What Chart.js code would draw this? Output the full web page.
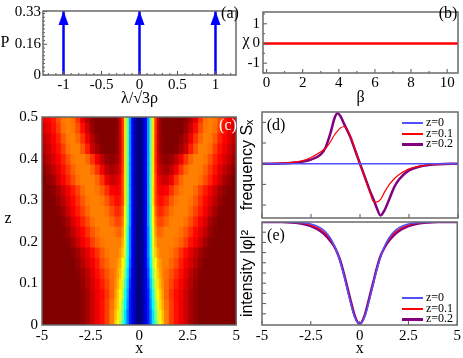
<!DOCTYPE html>
<html>
<head>
<meta charset="utf-8">
<script src="https://cdn.jsdelivr.net/npm/chart.js@4.4.0/dist/chart.umd.min.js"></script>
<style>
  body { margin: 0; background: #fff; }
  #fig { position: relative; width: 463px; height: 358px; overflow: hidden; }
  #fig canvas { position: absolute; }
  .lbl { position: absolute; font-family: 'Liberation Serif', serif; font-size: 16px; line-height: 1;
         transform: translate(-50%, -50%); white-space: nowrap; color: #000; }
  .leg { position: absolute; left: 402px; font-family: 'Liberation Serif', serif; font-size: 12px;
         line-height: 1; white-space: nowrap; transform: translateY(-50%); }
  .leg i { display: inline-block; width: 21px; vertical-align: middle; margin-right: 3px; }
</style>
</head>
<body>
<div id="fig">
  <div class="lbl" style="left:5px;top:42px">P</div>
  <div class="lbl" style="left:246px;top:40px">χ</div>
  <div class="lbl" style="left:8px;top:218px">z</div>
  <div class="lbl" style="left:230px;top:13px">(a)</div>
  <div class="lbl" style="left:448px;top:13px">(b)</div>
  <div class="lbl" style="left:228px;top:125px;color:#fff">(c)</div>
  <div class="lbl" style="left:276px;top:125px">(d)</div>
  <div class="lbl" style="left:276px;top:235px">(e)</div>
  <div class="leg" style="top:122px"><i style="height:2px;background:#5050ff"></i>z=0</div>
  <div class="leg" style="top:132.5px"><i style="height:1.5px;background:#ff0000"></i>z=0.1</div>
  <div class="leg" style="top:143px"><i style="height:3px;background:#800080"></i>z=0.2</div>
  <div class="leg" style="top:297px"><i style="height:2px;background:#5050ff"></i>z=0</div>
  <div class="leg" style="top:307.7px"><i style="height:1.5px;background:#ff0000"></i>z=0.1</div>
  <div class="leg" style="top:318.3px"><i style="height:3px;background:#800080"></i>z=0.2</div>
</div>
<script>
// (a) eigenvalue distribution
const lambdaVals = [-1, 0, 1];
const probVals = [0.333, 0.333, 0.333];
const lambdaTicks = [-1, -0.5, 0, 0.5, 1];
const probTicks = [0, 0.16, 0.33];

// (b) chirp vs beta
const betaVals = [-0.2, 0, 2, 4, 6, 8, 10, 10.6];
const chiVals = [0, 0, 0, 0, 0, 0, 0, 0];
const betaTicks = [0, 2, 4, 6, 8, 10];
const chiTicks = [-1, 0, 1];

// (c) intensity map, levels 0..20 on a jet scale, x >= 0 half (mirrored)
const xTicks = [-5, -2.5, 0, 2.5, 5];
const zTicks = [0, 0.1, 0.2, 0.3, 0.4, 0.5];
const heatZ = [0, 0.025, 0.05, 0.075, 0.1, 0.125, 0.15, 0.175, 0.2, 0.225, 0.25,
               0.275, 0.3, 0.325, 0.35, 0.375, 0.4, 0.425, 0.45, 0.475, 0.5];
const heatXEdges = [0, 0.125, 0.25, 0.375, 0.5, 0.625, 0.75, 0.875, 1, 1.125, 1.25, 1.5, 1.75,
                    2, 2.25, 2.5, 2.75, 3, 3.25, 3.5, 3.75, 4, 4.25, 4.5, 4.75, 5];
const heatLevels = [
  [0,1,2,3,5,7,9,11, 12.5,13.5,15,16.3,17.2,17.8,18.5,19.2,19.7, 20,20,20,20,20,20,20,20],
  [0,1,2,3,5,7,9.5,11.5, 12.8,13.8,15,16.3,17.2,17.8,18.5,19.2,19.7, 20,20,20,20,20,20,20,20],
  [0,1,2,3,5.5,7.5,10,12, 13.3,14.2,15.2,16.3,17.2,17.8,18.5,19.2,19.7, 20,20,20,20,20,20,20,20],
  [0,1,2,3,6,8,11,12.5, 13.5,14.5,15.5,16.5,17.3,17.8,18.5,19.2,19.7, 20,20,20,20,20,20,20,20],
  [0,1,2,3.5,6.5,9,11.5,13, 14,14.8,15.4,16.2,17,17.6,18.3,19,19.6, 20,20,20,20,20,20,20,20],
  [0,1,2,4,7,10,12,13.5, 14.3,15,15.3,15.9,16.6,17.3,18,18.8,19.4, 19.8,20,20,20,20,20,20,20],
  [0,1,2.5,4.5,7.5,11,12.5,14, 14.5,15,15,15.5,16,17,17.7,18.3,19, 19.6,20,20,20,20,20,20,20],
  [0,1,2.5,5,8,11.5,13.5,14.5, 15,15,15,15.2,15.7,16.5,17.3,18,18.7, 19.3,19.8,20,20,20,20,20,20],
  [0,1,2.5,5,8,12,14,15, 15,15,15,15,15.2,15.6,16.3,17.2,17.8, 18.5,19.3,19.8,20,20,20,20,20],
  [0,1,2.5,5,8.5,12,14.5,15.5, 15.5,15.3,15,15,15,15.3,15.8,16.6,17.4, 18,18.8,19.5,19.9,20,20,20,20],
  [0,1,2.5,5.5,9,12.5,15,16, 16.2,16,15.5,15,15,15,15.3,16,16.8, 17.6,18.3,19.2,19.7,20,20,20,20],
  [0,1,2.5,5.5,9,12.5,15.5,16.5, 16.8,16.6,16,15.3,15,15,15,15.5,16.2, 17,17.7,18.5,19.3,19.8,20,20,20],
  [0,1,2.5,5.5,9.5,13,16,17, 17.3,17.2,16.7,15.8,15.2,15,15,15.2,15.8, 16.6,17.4,18.1,18.9,19.5,19.9,20,20],
  [0,1,2.5,5.5,9.5,13,16,17.3, 17.7,17.8,17.5,16.6,15.7,15.2,15,15,15.4, 16.2,17,17.7,18.5,19.2,19.7,20,20],
  [0,1,2.5,5.5,9.5,13,16,17.5, 18,18.5,18.5,17.8,16.5,15.5,15,15,15, 15.3,16,16.8,17.6,18.4,19.2,19.7,20],
  [0,1,2.5,5.5,9.5,13,16.3,18, 18.7,19,19.2,18.8,17.7,16.5,15.5,15,15, 15.1,15.6,16.4,17.2,18,18.7,19.3,19.7],
  [0,1,2.5,5.5,9.5,13,16.5,18.3, 19.2,19.5,19.7,19.5,18.8,17.8,16.5,15.5,15, 15,15.2,15.9,16.8,17.5,18.2,18.8,19.3],
  [0,1,2.5,5.5,9.5,13,16.5,18.5, 19.5,19.8,20,20,19.8,19.3,18.5,17,15.8, 15,15,15.3,16.3,17.2,17.8,18.5,19],
  [0,1,2.5,5.5,9.5,13,16.5,18.5, 19.5,19.8,20,20,20,19.7,19,17.8,16.5, 15.5,15,15.1,15.8,16.8,17.5,18.2,18.7],
  [0,1,2.5,5.5,9.5,13,16.5,18.5, 19.5,20,20,20,20,20,19.5,18.5,17.3, 16,15.2,15,15.3,16.3,17.2,17.8,18.2],
  [0,1,2.5,5.5,9.5,13,16.5,18.5, 19.5,20,20,20,20,20,19.7,19,18, 16.5,15.3,15,15.2,16,17,17.5,17.8]
];

// (d), (e) profiles
const profileX = [-5, -4, -3.5, -3, -2.5, -2, -1.75, -1.5, -1.3, -1.15, -1, -0.8, -0.5, -0.25, 0,
                  0.25, 0.5, 0.7, 0.85, 1.05, 1.25, 1.5, 1.75, 2, 2.5, 3, 3.5, 4, 5];
const freqZ0 = [0,0,0,0,0,0,0,0,0,0,0,0,0,0,0,0,0,0,0,0,0,0,0,0,0,0,0,0,0];
const freqZ01 = [0, 0.01, 0.025, 0.05, 0.12, 0.23, 0.3, 0.43, 0.56, 0.63, 0.69, 0.72, 0.54, 0.28, 0,
                 -0.28, -0.55, -0.74, -0.74, -0.69, -0.55, -0.4, -0.29, -0.21, -0.1, -0.05, -0.02, -0.01, 0];
const freqZ02 = [0, 0.005, 0.015, 0.035, 0.08, 0.18, 0.32, 0.6, 0.88, 0.975, 0.92, 0.76, 0.52, 0.26, 0,
                 -0.26, -0.52, -0.7, -0.85, -1.0, -0.9, -0.68, -0.45, -0.3, -0.13, -0.06, -0.025, -0.01, 0];
const intZ0 = [1, 0.9995, 0.998, 0.993, 0.98, 0.943, 0.904, 0.843, 0.771, 0.7, 0.613, 0.472, 0.233, 0.066, 0,
               0.066, 0.233, 0.393, 0.51, 0.643, 0.75, 0.843, 0.904, 0.943, 0.98, 0.993, 0.998, 0.9995, 1];
const intZ01 = [1, 0.999, 0.997, 0.99, 0.97, 0.927, 0.887, 0.83, 0.765, 0.7, 0.619, 0.48, 0.245, 0.073, 0,
                0.073, 0.245, 0.4, 0.517, 0.649, 0.745, 0.83, 0.887, 0.927, 0.97, 0.99, 0.997, 0.999, 1];
const intZ02 = [1, 0.999, 0.995, 0.985, 0.96, 0.91, 0.87, 0.815, 0.76, 0.7, 0.625, 0.49, 0.26, 0.08, 0,
                0.08, 0.26, 0.41, 0.525, 0.655, 0.74, 0.815, 0.87, 0.91, 0.96, 0.985, 0.995, 0.999, 1];

const BLUE = '#5050ff', RED = '#ff0000', PURPLE = '#800080';
const SERIF = 'Liberation Serif, Times New Roman, serif';
Chart.defaults.font.family = SERIF;
const tickFont = { family: SERIF, size: 15 };
const serifTitle = { family: SERIF, size: 16 };
const sansTitle = { family: 'Liberation Sans, Arial, sans-serif', size: 16 };

function jet(v) {
    const c = t => Math.round(255 * Math.max(0, Math.min(1, 1.5 - Math.abs(4 * v - t))));
    return `rgb(${c(3)},${c(2)},${c(1)})`;
}

// frame round the plot area and short inward tick marks
const frameTicks = {
    id: 'frameTicks',
    afterDraw(chart, args, opts) {
        const { ctx, chartArea: a, scales: { x, y } } = chart;
        ctx.save();
        ctx.strokeStyle = '#555';
        ctx.lineWidth = 1;
        ctx.beginPath();
        const xm = (vals, len) => (vals || []).forEach(v => {
            const px = x.getPixelForValue(v);
            ctx.moveTo(px, a.bottom); ctx.lineTo(px, a.bottom - len);
        });
        const ym = (vals, len) => (vals || []).forEach(v => {
            const py = y.getPixelForValue(v);
            ctx.moveTo(a.left, py); ctx.lineTo(a.left + len, py);
        });
        xm(opts.xMajor, 4); xm(opts.xMinor, 2);
        ym(opts.yMajor, 4); ym(opts.yMinor, 2);
        ctx.stroke();
        ctx.lineWidth = 1.5;
        ctx.strokeStyle = '#6a6a6a';
        ctx.strokeRect(a.left, a.top, a.width, a.height);
        ctx.restore();
    }
};

function makeCanvas(left, top, w, h) {
    const c = document.createElement('canvas');
    c.width = w; c.height = h;
    c.style.left = left + 'px'; c.style.top = top + 'px';
    c.style.width = w + 'px'; c.style.height = h + 'px';
    const fig = document.getElementById('fig');
    fig.insertBefore(c, fig.firstChild);
    return c;
}

function axis(min, max, ticks, size, title, titleFont, titlePad, labelPad) {
    return {
        type: 'linear', min, max, offset: false,
        grid: { display: false, drawTicks: false, offset: false },
        border: { display: false },
        ticks: { display: ticks.length > 0, padding: labelPad || 1, color: '#000', font: tickFont,
                 autoSkip: false, maxRotation: 0, callback: v => String(v) },
        title: title ? { display: true, text: title, color: '#000', font: titleFont, padding: titlePad || 0 }
                     : { display: false },
        afterBuildTicks: s => { s.ticks = ticks.map(v => ({ value: v })); },
        afterFit: s => { if (s.isHorizontal()) s.height = size; else s.width = size; }
    };
}

function options(pad, scales, frame, extra) {
    return Object.assign({
        responsive: false, animation: false, events: [],
        layout: { padding: pad },
        plugins: { legend: { display: false }, tooltip: { enabled: false }, frameTicks: frame },
        scales
    }, extra || {});
}

function lineSet(xs, ys, color, width) {
    return {
        data: xs.map((x, i) => ({ x, y: ys[i] })),
        showLine: true, borderColor: color, borderWidth: width,
        pointRadius: 0, cubicInterpolationMode: 'monotone', fill: false
    };
}

// arrow head: apex at the centre of the image, so it sits on the data value
const arrowHead = document.createElement('canvas');
arrowHead.width = 11; arrowHead.height = 30;
(() => {
    const g = arrowHead.getContext('2d');
    g.fillStyle = '#0000ff';
    g.beginPath(); g.moveTo(5.5, 15); g.lineTo(10.5, 29); g.lineTo(0.5, 29); g.closePath(); g.fill();
})();

// (a)
new Chart(makeCanvas(0, 0, 242, 108), {
    type: 'scatter',
    data: {
        datasets: [
            ...lambdaVals.map((l, i) => ({
                data: [{ x: l, y: 0 }, { x: l, y: probVals[i] }],
                showLine: true, borderColor: '#0000ff', borderWidth: 2.5, pointRadius: 0
            })),
            { data: lambdaVals.map((l, i) => ({ x: l, y: probVals[i] })),
              pointStyle: arrowHead, pointRadius: 5, showLine: false }
        ]
    },
    options: options({ left: 0, top: 4, right: 4, bottom: 0 }, {
        x: axis(-1.27, 1.27, lambdaTicks, 33, 'λ/√3ρ', serifTitle),
        y: axis(0, 0.333, probTicks, 43, null, null, 0, 2)
    }, { xMajor: lambdaTicks, xMinor: [-1.2, -1.1, -0.9, -0.8, -0.7, -0.6, -0.4, -0.3, -0.2, -0.1, 0.1, 0.2, 0.3, 0.4, 0.6, 0.7, 0.8, 0.9, 1.1, 1.2],
         yMajor: probTicks, yMinor: [0.02, 0.04, 0.06, 0.08, 0.1, 0.12, 0.14, 0.18, 0.2, 0.22, 0.24, 0.26, 0.28, 0.3, 0.32] }),
    plugins: [frameTicks]
});

// (b)
new Chart(makeCanvas(232, 0, 231, 107), {
    type: 'scatter',
    data: { datasets: [lineSet(betaVals, chiVals, RED, 2.5)] },
    options: options({ left: 0, top: 4, right: 5, bottom: 0 }, {
        x: axis(-0.2, 10.6, betaTicks, 34, 'β', serifTitle),
        y: axis(-1.5, 1.6, chiTicks, 31, null, null, 0, 3)
    }, { xMajor: betaTicks, xMinor: [1, 3, 5, 7, 9], yMajor: chiTicks, yMinor: [-1.5, -0.5, 0.5, 1.5] }),
    plugins: [frameTicks]
});

// (c) heat map as floating horizontal bars, one per cell
const heatSets = [];
for (let c = 0; c < heatXEdges.length - 1; c++) {
    const colors = heatLevels.map(row => jet(row[c] / 20));
    [[heatXEdges[c], heatXEdges[c + 1]], [-heatXEdges[c + 1], -heatXEdges[c]]].forEach(span => {
        heatSets.push({
            data: heatZ.map(z => ({ y: z, x: span })),
            backgroundColor: colors, borderWidth: 0, grouped: false,
            barPercentage: 1, categoryPercentage: 1, inflateAmount: 0.6, clip: 0
        });
    });
}
new Chart(makeCanvas(0, 104, 242, 254), {
    type: 'bar',
    data: { datasets: heatSets },
    options: options({ left: 0, top: 8, right: 3, bottom: 0 }, {
        x: axis(-5, 5, xTicks, 33, 'x', serifTitle, 0, 2),
        y: axis(0, 0.5, zTicks, 42, null, null, 0, 4)
    }, {}, { indexAxis: 'y' }),
    plugins: [frameTicks]
});

// (d)
new Chart(makeCanvas(232, 104, 231, 116), {
    type: 'scatter',
    data: { datasets: [
        lineSet(profileX, freqZ0, BLUE, 1.5),
        lineSet(profileX, freqZ01, RED, 1.2),
        lineSet(profileX, freqZ02, PURPLE, 2.5)
    ] },
    options: options({ left: 0, top: 8, right: 5, bottom: 0 }, {
        x: axis(-5, 5, [], 2),
        y: axis(-1.05, 1.0, [], 30, 'frequency Sₓ', sansTitle, { top: 6 })
    }, { xMajor: xTicks, yMajor: [-0.8, -0.4, 0, 0.4, 0.8] }),
    plugins: [frameTicks]
});

// (e)
new Chart(makeCanvas(232, 220, 231, 138), {
    type: 'scatter',
    data: { datasets: [
        lineSet(profileX, intZ0, BLUE, 1.5),
        lineSet(profileX, intZ01, RED, 1.2),
        lineSet(profileX, intZ02, PURPLE, 2.5)
    ] },
    options: options({ left: 0, top: 2, right: 5, bottom: 0 }, {
        x: axis(-5, 5, xTicks, 33, 'x', serifTitle, 0, 2),
        y: axis(-0.01, 1.0, [], 30, 'intensity |φ|²', sansTitle, { top: 6 })
    }, { xMajor: xTicks, yMajor: [0.1, 0.2, 0.3, 0.4, 0.5, 0.6, 0.7, 0.8, 0.9] }),
    plugins: [frameTicks]
});
</script>
</body>
</html>
